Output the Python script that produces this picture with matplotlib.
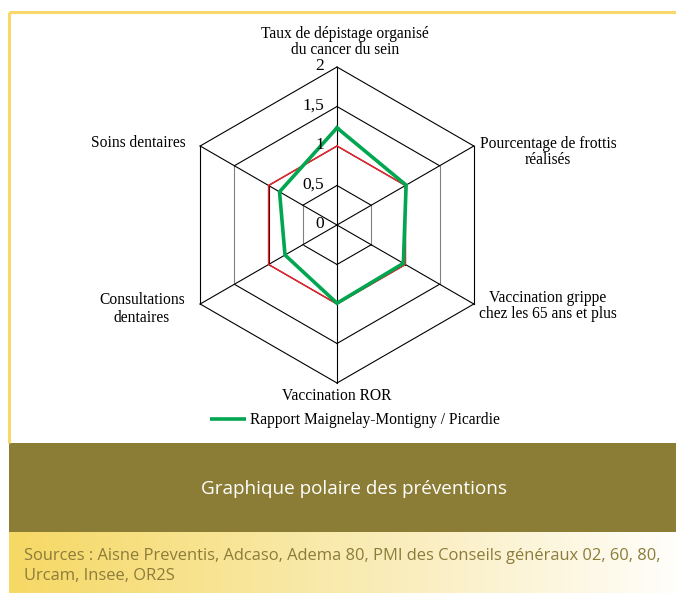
import numpy as np
import matplotlib
matplotlib.use("Agg")
import matplotlib.pyplot as plt
from matplotlib.colors import LinearSegmentedColormap

# ---- data ----
categories = [
    "Taux de dépistage organisé\ndu cancer du sein",
    "Pourcentage de frottis\nréalisés",
    "Vaccination grippe\nchez les 65 ans et plus",
    "Vaccination ROR",
    "Consultations\ndentaires",
    "Soins dentaires",
]
local_ratio = [1.23, 1.01, 0.97, 0.99, 0.76, 0.84]   # Maignelay-Montigny / Picardie
picardie_ref = [1, 1, 1, 1, 1, 1]
ring_levels = [0.5, 1.0, 1.5, 2.0]
tick_values = [0, 0.5, 1, 1.5, 2]
tick_labels = ["0", "0,5", "1", "1,5", "2"]
legend_label = "Rapport Maignelay-Montigny / Picardie"
title_text = "Graphique polaire des préventions"
source_text = "Sources : Aisne Preventis, Adcaso, Adema 80, PMI des Conseils généraux 02, 60, 80,\nUrcam, Insee, OR2S"

W, H = 676, 593
fig = plt.figure(figsize=(W / 100, H / 100), dpi=100)
fig.patch.set_facecolor("white")

# ---- background decorations (pixel coordinates axes) ----
bg = fig.add_axes([0, 0, 1, 1])
bg.set_xlim(0, W)
bg.set_ylim(H, 0)
bg.axis("off")
yellow = "#F6D96A"
olive = "#8C7D36"
bg.plot([9, W], [12, 12], color=yellow, lw=2.2, solid_capstyle="butt")
bg.plot([9, 9], [12, 443], color=yellow, lw=2.2, solid_capstyle="butt")
bg.add_patch(plt.Rectangle((9, 443), W - 9, 89, color=olive, lw=0))
grad = np.linspace(0, 1, 256).reshape(1, -1)
cmap = LinearSegmentedColormap.from_list("g", ["#F6D864", "#F8E597", "#FBF0C8", "#FFFEFA"])
bg.imshow(grad, cmap=cmap, extent=[9, W, 593, 532], aspect="auto", zorder=1)
bg.text(354, 489, title_text, color="white", fontsize=13.6, family="Open Sans",
        ha="center", va="center")
bg.text(24, 566, source_text, color="#8C7C3A", fontsize=11.9, family="Open Sans",
        ha="left", va="center", linespacing=1.3)

# ---- radar axes ----
scale = 79.0  # pixels per unit
cx, cy = 337, 225
half = 2.5
ax = fig.add_axes([(cx - half * scale) / W, (H - cy - half * scale) / H,
                   2 * half * scale / W, 2 * half * scale / H])
ax.set_xlim(-half, half)
ax.set_ylim(-half, half)
ax.axis("off")
ax.patch.set_alpha(0)

n = len(categories)
ang = np.arange(n) * 2 * np.pi / n

def xy(vals):
    v = np.asarray(vals, dtype=float)
    x = v * np.sin(ang)
    y = v * np.cos(ang)
    return np.append(x, x[0]), np.append(y, y[0])

# rings
for lv in ring_levels:
    x, y = xy([lv] * n)
    for i in range(n):
        vertical = abs(x[i] - x[i + 1]) < 1e-9
        col = "#808080" if (vertical and lv in (0.5, 1.5)) else "black"
        ax.plot(x[i:i + 2], y[i:i + 2], color=col, lw=0.8, zorder=2)
# spokes
for a in ang:
    ax.plot([0, 2 * np.sin(a)], [0, 2 * np.cos(a)], color="black", lw=0.8, zorder=2)

# series
x, y = xy(picardie_ref)
ax.plot(x, y, color="#E8242C", lw=1.1, zorder=3)
x, y = xy(local_ratio)
line, = ax.plot(x, y, color="#00A650", lw=2.6, zorder=4, solid_joinstyle="miter")

# tick labels
for v, t in zip(tick_values, tick_labels):
    ax.text(-0.165, v + 0.01, t, ha="right", va="center", family="Liberation Serif",
            fontsize=12.5, zorder=5)

# category labels (positions in pixels converted)
lab_pos = [(345, 42, "center", 1.08), (548, 152, "center", 1.08),
           (548, 306, "center", 0.95), (337, 396, "center", 1.0),
           (142, 309, "center", 1.14), (186, 143, "right", 1.0)]
for c, (px, py, ha, ls) in zip(categories, lab_pos):
    ax.text((px - cx) / scale, (cy - py) / scale, c, ha=ha, va="center",
            family="Liberation Serif", fontsize=11.2, linespacing=ls,
            multialignment="center", clip_on=False)

# legend
bg.plot([210, 246], [419, 419], color="#00A650", lw=2.6, solid_capstyle="butt")
bg.text(250, 420, legend_label, ha="left", va="center", family="Liberation Serif",
        fontsize=11.2)

fig.savefig("out.png", dpi=100)
